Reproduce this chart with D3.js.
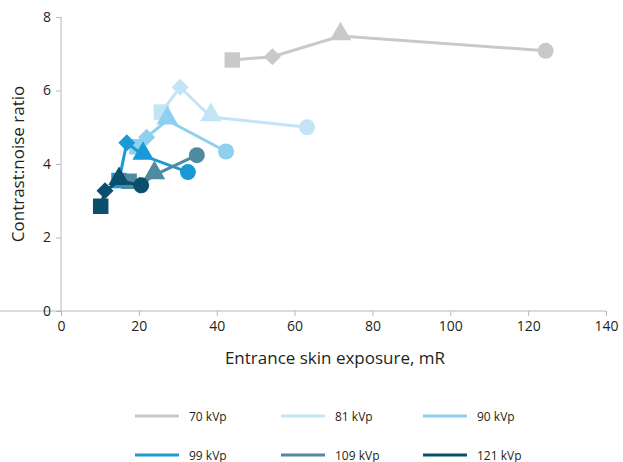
<!DOCTYPE html>
<html><head><meta charset="utf-8">
<script src="https://cdn.jsdelivr.net/npm/d3@7"></script>
<style>body{margin:0;background:#fff;} text{font-family:"Open Sans","Noto Sans",sans-serif;}</style>
</head><body>
<svg id="c" width="623" height="462"></svg>
<script>
const seriesNames = ["70 kVp","81 kVp","90 kVp","99 kVp","109 kVp","121 kVp"];
const seriesColors = ["#c8c9c8","#c3e4f6","#8dd0f0","#1b99d4","#4e8aa0","#0b4f6d"];
const markerShapes = ["square","diamond","triangle","circle"];
const xValues = [
  [44.0, 54.3, 71.8, 124.5],
  [25.8, 30.6, 38.5, 63.2],
  [19.5, 22.0, 27.3, 42.4],
  [14.9, 16.9, 21.1, 32.6],
  [17.5, 20.3, 24.0, 34.9],
  [10.2, 11.3, 14.9, 20.6]
];
const yValues = [
  [6.83, 6.92, 7.48, 7.08],
  [5.41, 6.09, 5.28, 5.00],
  [4.47, 4.73, 5.19, 4.34],
  [3.55, 4.58, 4.23, 3.78],
  [3.53, 3.42, 3.70, 4.24],
  [2.85, 3.27, 3.54, 3.42]
];
const xTicks = [0,20,40,60,80,100,120,140];
const yTicks = [0,2,4,6,8];

const svg = d3.select("#c");
const x = d3.scaleLinear().domain([0,140]).range([61,606]);
const y = d3.scaleLinear().domain([0,8]).range([311,17]);
const axisColor = "#b8b8b8";

const xAxis = svg.append("g").attr("transform","translate(0,311)")
  .call(d3.axisBottom(x).tickValues(xTicks).tickSize(5).tickPadding(5).tickSizeOuter(0));
const yAxis = svg.append("g").attr("transform","translate(61,0)")
  .call(d3.axisLeft(y).tickValues(yTicks).tickSize(5).tickPadding(5).tickSizeOuter(0));
[xAxis,yAxis].forEach(a=>{
  a.selectAll("path,line").attr("stroke",axisColor);
  a.selectAll("text").attr("fill","#231f20").style("font-size","14px");
});
yAxis.select(".domain").attr("d","M0,311V17");
xAxis.select(".domain").attr("d","M0,0H606");

svg.append("text").attr("x",335).attr("y",364).attr("text-anchor","middle")
  .style("font-size","17px").attr("fill","#231f20").text("Entrance skin exposure, mR");
svg.append("text").attr("transform","translate(24,164) rotate(-90)").attr("text-anchor","middle")
  .style("font-size","17px").attr("fill","#231f20").text("Contrast:noise ratio");

const sym = {
  square: d3.symbol().type(d3.symbolSquare).size(240),
  diamond: d3.symbol().type(d3.symbolSquare).size(144),
  triangle: d3.symbol().type(d3.symbolTriangle).size(200),
  circle: d3.symbol().type(d3.symbolCircle).size(200)
};
const line = d3.line().x(d=>x(d[0])).y(d=>y(d[1]));
seriesNames.forEach((name,i)=>{
  const pts = xValues[i].map((v,j)=>[v,yValues[i][j]]);
  const g = svg.append("g");
  g.append("path").attr("d",line(pts)).attr("fill","none").attr("stroke",seriesColors[i]).attr("stroke-width",3);
  pts.forEach((p,j)=>{
    const s = markerShapes[j];
    g.append("path").attr("d",sym[s]())
      .attr("transform",`translate(${x(p[0])},${y(p[1])})`+(s==="diamond"?" rotate(45)":"")+(s==="triangle"?" translate(0,-2)":""))
      .attr("fill",seriesColors[i]);
  });
});

const legCols = [135,281,423];
const legRows = [416,455];
seriesNames.forEach((name,i)=>{
  const lx = legCols[i%3], ly = legRows[Math.floor(i/3)];
  svg.append("line").attr("x1",lx).attr("x2",lx+44).attr("y1",ly).attr("y2",ly)
    .attr("stroke",seriesColors[i]).attr("stroke-width",3);
  svg.append("text").attr("x",lx+54).attr("y",ly+4.5).style("font-size","12px")
    .attr("fill","#231f20").text(name);
});
</script>
</body></html>
